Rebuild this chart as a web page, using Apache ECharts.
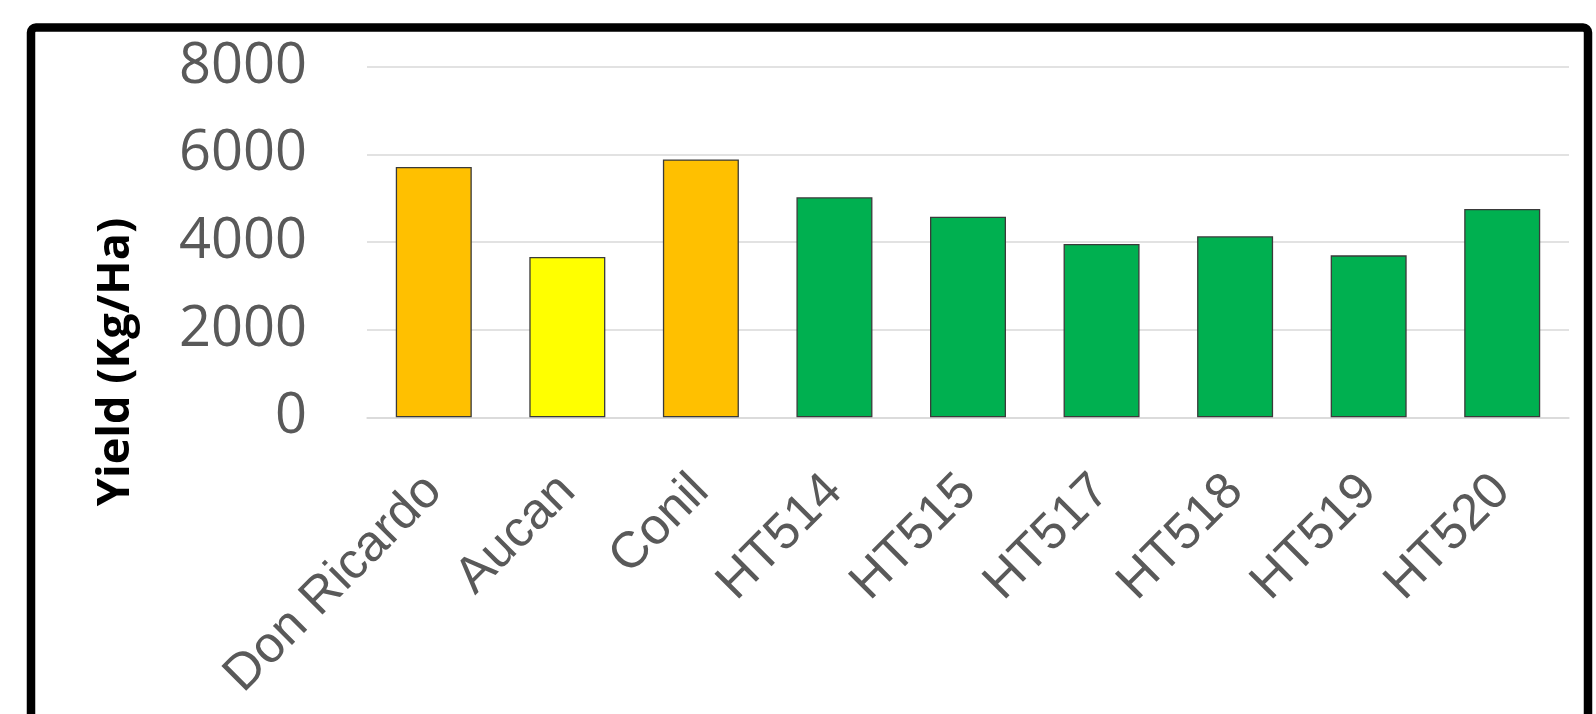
<!DOCTYPE html>
<html>
<head>
<meta charset="utf-8">
<title>Yield</title>
<script src="https://cdn.jsdelivr.net/npm/echarts@6/dist/echarts.min.js"></script>
<style>
  html, body { margin: 0; padding: 0; background: #fff; }
  #chart { width: 1596px; height: 714px; }
</style>
</head>
<body>
<div id="chart"></div>
<script>
const varieties = ['Don Ricardo', 'Aucan', 'Conil', 'HT514', 'HT515', 'HT517', 'HT518', 'HT519', 'HT520'];
const yieldKgHa = [5710, 3660, 5885, 5020, 4575, 3955, 4130, 3695, 4755];
const yTicks = [0, 2000, 4000, 6000, 8000];

// fill colours per bar (checks orange/yellow, hybrids green)
const barColors = ['#FFC000', '#FFFF00', '#FFC000', '#00B050', '#00B050', '#00B050', '#00B050', '#00B050', '#00B050'];

const chart = echarts.init(document.getElementById('chart'));

const option = {
  backgroundColor: '#ffffff',
  animation: false,
  grid: {
    left: 367,
    right: 27,
    top: 66.7,
    bottom: 296.7
  },
  xAxis: {
    type: 'category',
    data: varieties,
    axisLine: { show: true, lineStyle: { color: '#d9d9d9', width: 1.5 } },
    axisTick: { show: false },
    axisLabel: {
      interval: 0,
      rotate: 45,
      margin: 66,
      color: '#595959',
      fontFamily: 'Liberation Sans, Arial, sans-serif',
      fontSize: 51
    }
  },
  yAxis: {
    type: 'value',
    min: yTicks[0],
    max: yTicks[yTicks.length - 1],
    interval: 2000,
    axisLine: { show: false },
    axisTick: { show: false },
    splitLine: { lineStyle: { color: '#d9d9d9', width: 1.5 } },
    axisLabel: {
      margin: 60,
      color: '#595959',
      fontFamily: 'Open Sans, sans-serif',
      fontSize: 56,
      formatter: v => String(v)
    }
  },
  series: [
    {
      type: 'bar',
      barWidth: 76,
      data: yieldKgHa.map((v, i) => ({
        value: v,
        itemStyle: { color: barColors[i] }
      })),
      itemStyle: {
        borderColor: '#3a3a3a',
        borderWidth: 1.3
      }
    }
  ],
  graphic: [
    {
      type: 'text',
      x: 116,
      y: 362,
      rotation: Math.PI / 2,
      style: {
        text: 'Yield (Kg/Ha)',
        fill: '#000',
        font: 'bold 45px "Open Sans", sans-serif',
        textAlign: 'center',
        textVerticalAlign: 'middle'
      }
    },
    {
      type: 'rect',
      shape: { x: 31, y: 27.5, width: 1557, height: 740, r: 5 },
      style: { fill: 'none', stroke: '#000', lineWidth: 8.5 },
      silent: true
    }
  ]
};

chart.setOption(option);
</script>
</body>
</html>
